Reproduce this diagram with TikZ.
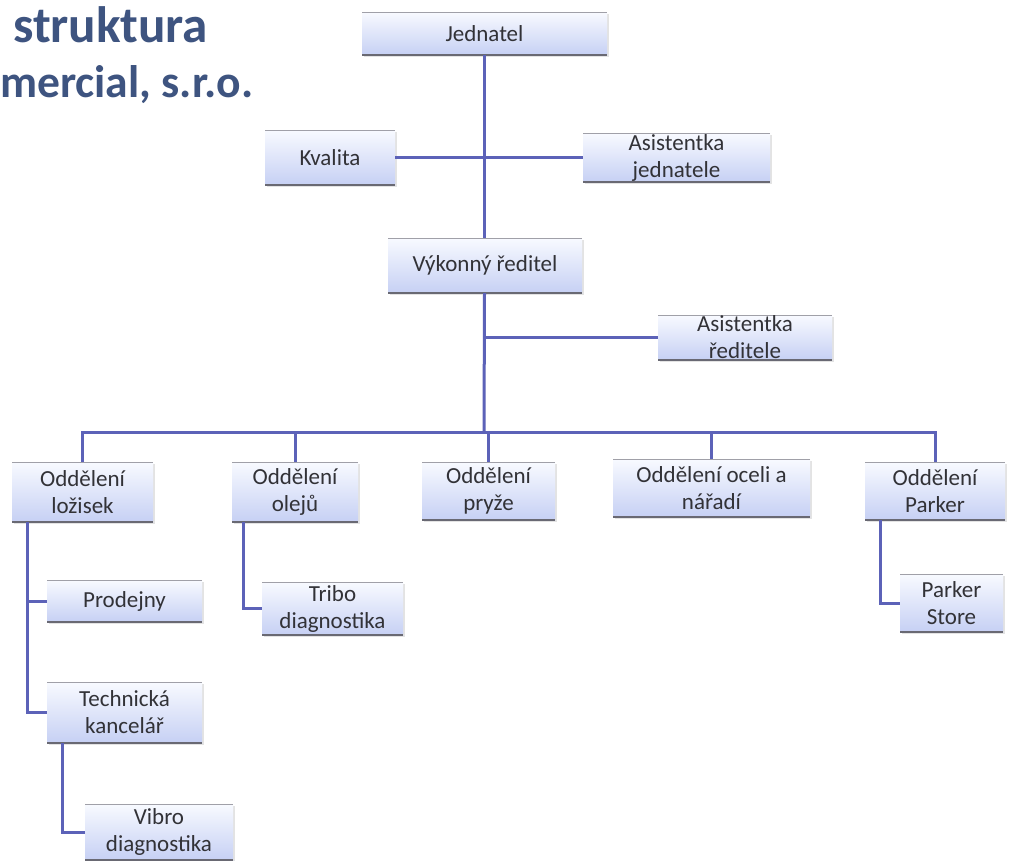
\documentclass[tikz,border=0pt]{standalone}
\usepackage{fontspec}
\setmainfont{Carlito}
\usetikzlibrary{shadows}
\definecolor{lineblue}{RGB}{92,98,184}
\definecolor{boxblue}{RGB}{198,208,244}
\definecolor{boxtop}{RGB}{248,250,255}
\definecolor{titleblue}{RGB}{62,84,128}
\definecolor{edgegrey}{RGB}{160,160,168}
\definecolor{edgedark}{RGB}{105,105,115}
\definecolor{textgrey}{RGB}{50,50,55}
\tikzset{
  orgbox/.style={inner sep=0pt, align=center, text=textgrey,
    font=\fontsize{23}{27}\selectfont,
    top color=boxtop, bottom color=boxblue,
    drop shadow={opacity=0.22, shadow xshift=1.5pt, shadow yshift=-2pt},
    path picture={
      \draw[edgegrey, line width=2pt] (path picture bounding box.north west) -- (path picture bounding box.north east);
      \draw[edgedark, line width=3pt] (path picture bounding box.south west) -- (path picture bounding box.south east);
    }},
  conn/.style={draw=lineblue, line width=3pt},
  titletext/.style={anchor=base west, inner sep=0pt, text=titleblue}
}
\begin{document}
\begin{tikzpicture}[x=1pt,y=-1pt]
\useasboundingbox (0,0) rectangle (1020,860);
\clip (0,0) rectangle (1020,860);
\fill[white] (0,0) rectangle (1020,860);

% title (cut off at the left)
\node[titletext] (t1) at (13,42) {\resizebox{195pt}{!}{\bfseries\fontsize{44}{50}\selectfont struktura}};
\node[titletext] (t2) at (0,97) {\resizebox{253pt}{!}{\bfseries\fontsize{44}{50}\selectfont mercial, s.r.o.}};

% boxes
\node[orgbox, minimum width=245pt, minimum height=43pt] (jed) at (484.5,33.5) {Jednatel};
\node[orgbox, minimum width=130pt, minimum height=55pt] (kva) at (330,157.5) {Kvalita};
\node[orgbox, minimum width=187pt, minimum height=49pt] (asj) at (676.5,157.5) {Asistentka\\jednatele};
\node[orgbox, minimum width=194pt, minimum height=55pt] (vyk) at (485,265.5) {Výkonný ředitel};
\node[orgbox, minimum width=174pt, minimum height=45pt] (asr) at (745,337.5) {Asistentka\\ředitele};
\node[orgbox, minimum width=141pt, minimum height=60pt] (loz) at (82.5,492) {Oddělení\\ložisek};
\node[orgbox, minimum width=126pt, minimum height=60pt] (ole) at (295,492) {Oddělení\\olejů};
\node[orgbox, minimum width=133pt, minimum height=58pt] (pry) at (488.5,491) {Oddělení\\pryže};
\node[orgbox, minimum width=197pt, minimum height=58pt] (oce) at (711.5,488) {Oddělení oceli a\\nářadí};
\node[orgbox, minimum width=140pt, minimum height=58pt] (par) at (935,491) {Oddělení\\Parker};
\node[orgbox, minimum width=155pt, minimum height=42pt] (pro) at (124.5,601) {Prodejny};
\node[orgbox, minimum width=141pt, minimum height=53pt] (tri) at (332.5,608.5) {Tribo\\diagnostika};
\node[orgbox, minimum width=155pt, minimum height=61pt] (tec) at (124.5,712.5) {Technická\\kancelář};
\node[orgbox, minimum width=148pt, minimum height=56pt] (vib) at (159,832) {Vibro\\diagnostika};
\node[orgbox, minimum width=103pt, minimum height=58pt] (pst) at (951.5,603) {Parker\\Store};

\coordinate (bus) at (484,432);

% connectors
\draw[conn] (jed.south) -- (jed.south |- vyk.north);
\draw[conn] (kva.east) -- (asj.west);
\draw[conn] (jed.south |- vyk.south) -- (bus);
\draw[conn] (jed.south |- asr.west) -- (asr.west);
\draw[conn] (loz.north) |- (par.north |- bus) -- (par.north);
\foreach \d in {ole,pry,oce} {\draw[conn] (\d.north |- bus) -- (\d.north);}
\draw[conn] ([xshift=-55.5pt]loz.south) |- (tec.west);
\draw[conn] ([xshift=-55.5pt]loz.south |- pro.west) -- (pro.west);
\draw[conn] ([xshift=-52pt]ole.south) |- (tri.west);
\draw[conn] ([xshift=-62.5pt]tec.south) |- (vib.west);
\draw[conn] ([xshift=-55pt]par.south) |- (pst.west);
\end{tikzpicture}
\end{document}
